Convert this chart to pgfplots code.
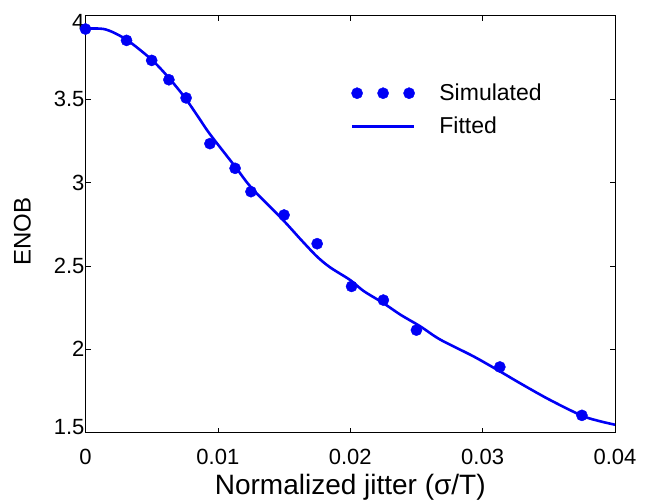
\documentclass[border=0pt]{standalone}
\usepackage{pgfplots}
\pgfplotsset{compat=1.18}
\usepackage{fontspec}
\setmainfont{Liberation Sans}
\definecolor{mblue}{RGB}{0,0,245}
\pgfplotsset{
  threedots legend/.style={legend image code/.code={\draw[mark repeat=1,mark phase=1,##1] plot coordinates {(5pt,0pt) (31pt,0pt) (57pt,0pt)};}},
  longline legend/.style={legend image code/.code={\draw[##1] (0pt,0pt) -- (62pt,0pt);}},
}
\begin{document}
\begin{tikzpicture}
\begin{axis}[
  name=ax,
  scale only axis,
  width=529.5pt, height=417pt,
  xmin=0, xmax=0.04, ymin=1.5, ymax=4,
  scaled x ticks=false,
  xtick={0,0.01,0.02,0.03,0.04},
  xticklabels={0,0.01,0.02,0.03,0.04},
  ytick={1.5,2,2.5,3,3.5,4},
  yticklabels={1.5,2,2.5,3,3.5,4},
  tick align=inside,
  major tick length=5pt,
  tick style={black, line width=0.6pt},
  axis line style={black, line width=0.8pt},
  xticklabel style={font=\fontsize{22}{26}\selectfont, yshift=-13pt},
  yticklabel style={font=\fontsize{22}{26}\selectfont, xshift=2.5pt,
     yshift={ifthenelse(\ticknum==0,6,ifthenelse(\ticknum==5,-6,0))}},
  xlabel={\fontsize{28}{32}\selectfont Normalized jitter (σ/T)},
  xlabel style={yshift=-3pt},
  ylabel={\fontsize{24}{28}\selectfont ENOB},
  ylabel style={at={(rel axis cs:-0.119,0.482)}, anchor=center},
  legend cell align=left,
  legend style={draw=none, fill=none, font=\fontsize{23}{27}\selectfont,
     at={(rel axis cs:0.495,0.846)}, anchor=north west, row sep=11pt,
     /tikz/every odd column/.append style={column sep=22pt}},
]
\addplot[only marks, mark=*, mark size=5.6pt, mblue, mark options={fill=mblue, draw=mblue}, threedots legend]
coordinates {
(0.0000,3.920)
(0.0031,3.852)
(0.0050,3.732)
(0.0063,3.616)
(0.0076,3.507)
(0.0094,3.233)
(0.0113,3.085)
(0.0125,2.945)
(0.0150,2.805)
(0.0175,2.633)
(0.0201,2.377)
(0.0225,2.295)
(0.0250,2.115)
(0.0313,1.894)
(0.0375,1.604)
};
\addlegendentry{Simulated}
\addplot[mblue, line width=2.6pt, smooth, longline legend]
coordinates {
(0.0000,3.922)
(0.0015,3.918)
(0.0031,3.856)
(0.0050,3.736)
(0.0063,3.627)
(0.0075,3.510)
(0.0085,3.395)
(0.0094,3.290)
(0.0113,3.096)
(0.01255,2.967)
(0.0149,2.777)
(0.0163,2.655)
(0.0175,2.555)
(0.0185,2.490)
(0.0200,2.415)
(0.0210,2.350)
(0.0225,2.277)
(0.0238,2.207)
(0.0253,2.137)
(0.0268,2.058)
(0.0293,1.958)
(0.0313,1.868)
(0.0328,1.798)
(0.0350,1.700)
(0.0375,1.602)
(0.0389,1.568)
(0.0400,1.548)
};
\addlegendentry{Fitted}
\end{axis}
\pgfresetboundingbox
\path[use as bounding box] ([shift={(-85.5pt,-69.3pt)}]ax.south west) rectangle ([shift={(39pt,15.7pt)}]ax.north east);
\end{tikzpicture}
\end{document}
